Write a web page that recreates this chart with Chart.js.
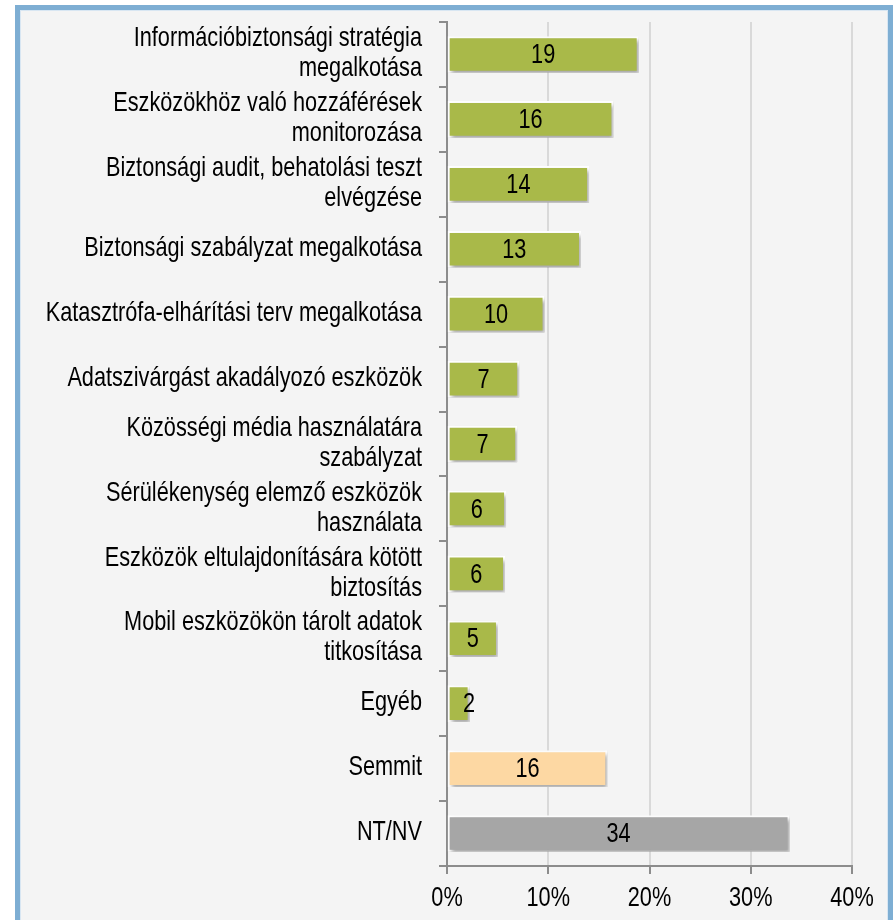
<!DOCTYPE html>
<html lang="hu">
<head>
<meta charset="UTF-8">
<title>Biztonsági intézkedések</title>
<script src="https://cdn.jsdelivr.net/npm/chart.js"></script>
<style>
  html, body { margin: 0; padding: 0; background: #fff; overflow: hidden; }
  #frame {
    position: absolute; left: 15px; top: 5px; width: 878px; height: 1000px;
    box-sizing: border-box; border: 5px solid #7eaed3; background: #f4f4f4;
    box-shadow: inset 0 0 0 1px #d8e6f2;
  }
  #wrap { position: absolute; left: 20px; top: 10px; width: 868px; height: 910px; }
</style>
</head>
<body>
<div id="frame"></div>
<div id="wrap"><canvas id="chart"></canvas></div>
<script>
// categories (multi-line labels as arrays)
const categories = [
  ['Információbiztonsági stratégia', 'megalkotása'],
  ['Eszközökhöz való hozzáférések', 'monitorozása'],
  ['Biztonsági audit, behatolási teszt', 'elvégzése'],
  'Biztonsági szabályzat megalkotása',
  'Katasztrófa-elhárítási terv megalkotása',
  'Adatszivárgást akadályozó eszközök',
  ['Közösségi média használatára', 'szabályzat'],
  ['Sérülékenység elemző eszközök', 'használata'],
  ['Eszközök eltulajdonítására kötött', 'biztosítás'],
  ['Mobil eszközökön tárolt adatok', 'titkosítása'],
  'Egyéb',
  'Semmit',
  'NT/NV'
];

// share of respondents, %
const values = [18.9, 16.4, 14.0, 13.2, 9.6, 7.1, 6.9, 5.8, 5.7, 5.0, 2.2, 15.8, 33.8];

const barColors = [
  '#a9b949', '#a9b949', '#a9b949', '#a9b949', '#a9b949', '#a9b949',
  '#a9b949', '#a9b949', '#a9b949', '#a9b949', '#a9b949', '#fdd8a3', '#a6a6a6'
];

const xTicks = [0, 10, 20, 30, 40];

const FONT = '28px "Liberation Sans", Arial, sans-serif';
const NARROW = 0.775;    // horizontal squeeze, gives a narrow typeface look
const LINE_H = 30;

// draw a line of text squeezed horizontally around its anchor point
function narrowText(ctx, text, x, y) {
  ctx.save();
  ctx.translate(x, y);
  ctx.scale(NARROW, 1);
  ctx.fillText(text, 0, 0);
  ctx.restore();
}

// soft drop shadow under the bars
const barShadow = {
  id: 'barShadow',
  beforeDatasetDraw(chart) {
    const ctx = chart.ctx;
    ctx.save();
    ctx.shadowColor = 'rgba(0,0,0,0.35)';
    ctx.shadowBlur = 4;
    ctx.shadowOffsetX = 2;
    ctx.shadowOffsetY = 3;
  },
  afterDatasetDraw(chart) {
    chart.ctx.restore();
  }
};

// axis labels and rounded values in the middle of each bar
const narrowLabels = {
  id: 'narrowLabels',
  afterDatasetsDraw(chart) {
    const ctx = chart.ctx;
    const xs = chart.scales.x;
    const ys = chart.scales.y;
    ctx.save();
    ctx.font = FONT;
    ctx.fillStyle = '#000';
    ctx.textBaseline = 'middle';

    // category labels
    ctx.textAlign = 'right';
    const right = ys.right - 8 - 17;
    ys.ticks.forEach((t, i) => {
      const lines = [].concat(categories[i]);
      const cy = ys.getPixelForTick(i) - 1;
      lines.forEach((line, k) => {
        const y = cy + (k - (lines.length - 1) / 2) * LINE_H;
        narrowText(ctx, line, right, y);
      });
    });

    // percentage ticks
    ctx.textAlign = 'center';
    xs.ticks.forEach((t, i) => {
      narrowText(ctx, t.value + '%', xs.getPixelForTick(i), xs.top + 32);
    });

    // bar values, kept clear of the axis line on very short bars
    const meta = chart.getDatasetMeta(0);
    meta.data.forEach((bar, i) => {
      const x = Math.max((bar.base + bar.x) / 2, bar.base + 21);
      narrowText(ctx, String(Math.round(values[i])), x, bar.y + 1);
    });
    ctx.restore();
  }
};

new Chart(document.getElementById('chart'), {
  type: 'bar',
  data: {
    labels: categories,
    datasets: [{
      data: values,
      backgroundColor: barColors,
      borderColor: '#ffffff',
      borderWidth: 2,
      borderSkipped: false,
      barThickness: 36
    }]
  },
  plugins: [barShadow, narrowLabels],
  options: {
    indexAxis: 'y',
    responsive: true,
    maintainAspectRatio: false,
    animation: false,
    layout: { padding: { top: 12, right: 36, bottom: 0, left: 0 } },
    plugins: {
      legend: { display: false },
      tooltip: { enabled: false }
    },
    scales: {
      x: {
        min: 0,
        max: 40,
        afterBuildTicks(scale) {
          scale.ticks = xTicks.map(v => ({ value: v }));
        },
        afterFit(scale) { scale.height = 54; },
        grid: { color: '#d9d9d9', lineWidth: 2, tickColor: '#8c8c8c', tickLength: 8 },
        border: { color: '#8c8c8c', width: 2 },
        ticks: { display: false }
      },
      y: {
        afterFit(scale) { scale.width = 427; },
        grid: { drawOnChartArea: false, tickColor: '#8c8c8c', tickLength: 8, lineWidth: 2 },
        border: { color: '#8c8c8c', width: 2 },
        ticks: { display: false, autoSkip: false }
      }
    }
  }
});
</script>
</body>
</html>
